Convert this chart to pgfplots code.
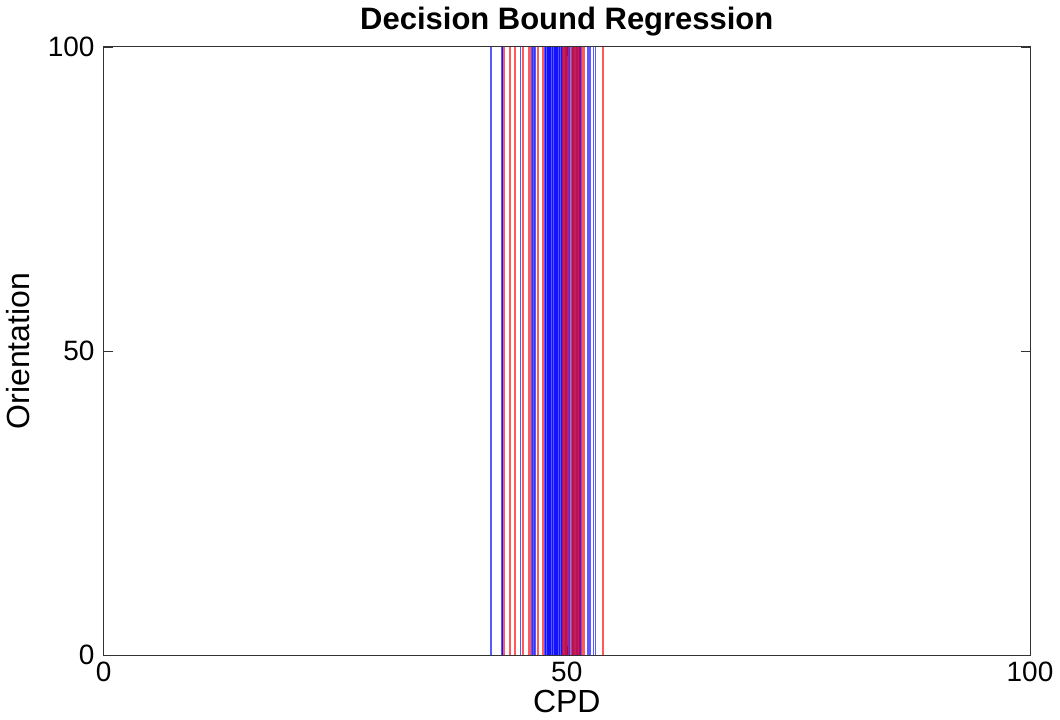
\documentclass[border=0pt]{standalone}
\usepackage{pgfplots}
\pgfplotsset{compat=1.18}
\usepackage{fontspec}
\setmainfont{Liberation Sans}
\begin{document}
\begin{tikzpicture}
\begin{axis}[
  scale only axis, width=463.5pt, height=304.5pt,
  xmin=0, xmax=100, ymin=0, ymax=100,
  xtick={0,50,100}, ytick={0,50,100},
  tick align=inside, tick pos=both,
  major tick length=4.5pt,
  axis line style={black!80, line width=0.5pt},
  tick style={black!80},
  /pgf/number format/assume math mode=true,
  ticklabel style={font=\fontsize{14}{16}\selectfont},
  xticklabel style={yshift=0pt},
  yticklabel style={xshift=-1pt},
  xlabel={CPD}, ylabel={Orientation},
  label style={font=\fontsize{16}{18}\selectfont},
  xlabel style={yshift=3pt}, ylabel style={yshift=2pt},
  title={\textbf{Decision Bound Regression}},
  title style={font=\fontsize{15.5}{17}\selectfont, yshift=-4pt},
  clip=true,
]
\addplot[ycomb, no marks, blue, line width=0.8pt, opacity=0.65] coordinates {
(41.8,100)(43.0,100)(45.0,100)(46.2,100)(46.4,100)(46.6,100)
(47.6,100)(47.75,100)(47.9,100)(48.05,100)(48.2,100)(48.35,100)(48.5,100)
(48.65,100)(48.8,100)(48.95,100)(49.1,100)(49.25,100)(49.4,100)
(49.7,100)(50.1,100)(50.5,100)(50.9,100)(51.3,100)(51.55,100)
(52.3,100)(52.5,100)(52.9,100)(53.1,100)
};
\addplot[ycomb, no marks, blue, line width=0.8pt, opacity=0.8] coordinates {
(43.05,100)(46.3,100)(46.5,100)(47.7,100)(47.95,100)(48.2,100)(48.45,100)
(48.7,100)(48.95,100)(49.2,100)(49.45,100)(49.9,100)(50.3,100)(50.7,100)
(51.1,100)(51.45,100)
};
\addplot[ycomb, no marks, red, line width=0.8pt, opacity=0.65] coordinates {
(43.2,100)(43.9,100)(44.4,100)(45.3,100)(45.85,100)(46.0,100)(46.9,100)
(47.4,100)(49.6,100)(49.8,100)(50.0,100)(50.2,100)(50.4,100)(50.6,100)
(50.8,100)(51.0,100)(51.2,100)(51.4,100)(51.7,100)(51.85,100)(53.9,100)
};
\end{axis}
\end{tikzpicture}
\end{document}
